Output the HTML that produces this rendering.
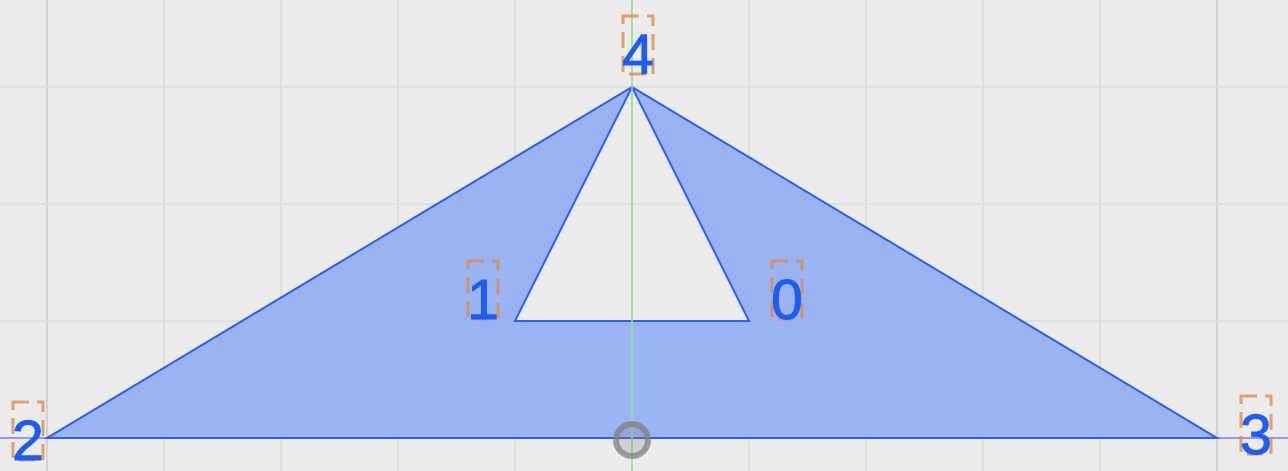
<!DOCTYPE html>
<html><head><meta charset="utf-8"><style>
html,body{margin:0;padding:0;background:#ebebeb;width:1288px;height:471px;overflow:hidden}
svg{display:block}
text{font-family:"Liberation Sans",sans-serif;font-size:57px;fill:#1f5cf0;stroke:#1f5cf0;stroke-width:1}
</style></head><body>
<svg id="c" width="1288" height="471" viewBox="0 0 1288 471"></svg>
<script>
const vertexIds=[0,1,2,3,4];
const vertexX=[1,-1,-5,5,0];
const vertexY=[1,1,0,0,3];
const gridXTicks=[-5,-4,-3,-2,-1,0,1,2,3,4,5];
const gridYTicks=[0,1,2,3];
const outerLoop=[2,3,4];
const innerLoop=[1,0,4];
const NS='http://www.w3.org/2000/svg';
const svg=document.getElementById('c');
const sx=u=>632+u*117, sy=v=>438-v*117;
function mk(t,a){const e=document.createElementNS(NS,t);for(const k in a)e.setAttribute(k,a[k]);svg.appendChild(e);return e;}
gridXTicks.forEach(g=>{const l=mk('line',{x1:sx(g),x2:sx(g),y1:0,y2:471,stroke:(g===-5||g===5)?'#d2d2d2':'#dddddd','stroke-width':2});

});
gridYTicks.forEach(g=>{const l=mk('line',{x1:0,x2:1288,y1:sy(g),y2:sy(g),stroke:g===0?'#7a7aee':'#dddddd','stroke-width':1.5});

});
const loopPath=L=>'M'+L.map(i=>sx(vertexX[i])+','+sy(vertexY[i])).join('L')+'Z';
const fill=mk('path',{d:loopPath(outerLoop)+loopPath(innerLoop),'fill-rule':'evenodd',fill:'#9ab4f3',stroke:'#2b5ff0','stroke-width':2,'stroke-linejoin':'miter'});


const axis=mk('line',{x1:sx(0),x2:sx(0),y1:0,y2:471,stroke:'#8fe08f','stroke-width':1.5});


const orig=mk('circle',{cx:sx(0),cy:sy(0)+2,r:16,fill:'rgba(128,128,128,0.25)',stroke:'rgba(128,128,128,0.75)','stroke-width':6});


const off={0:[38,-2],1:[-32,-2],2:[-19,22],3:[39,16],4:[6,-13]};
vertexIds.forEach((id,i)=>{
  const cx=sx(vertexX[i])+off[id][0], by=sy(vertexY[i])+off[id][1];
  const b=mk('rect',{x:cx-15,y:by-58,width:30,height:58,fill:'none',stroke:'#d98a45','stroke-width':3,'stroke-dasharray':'16 8',opacity:0.75});
  
  
  const t=mk('text',{x:cx,y:by,'text-anchor':'middle'});t.textContent=id;
  
  
});
</script>
</body></html>
